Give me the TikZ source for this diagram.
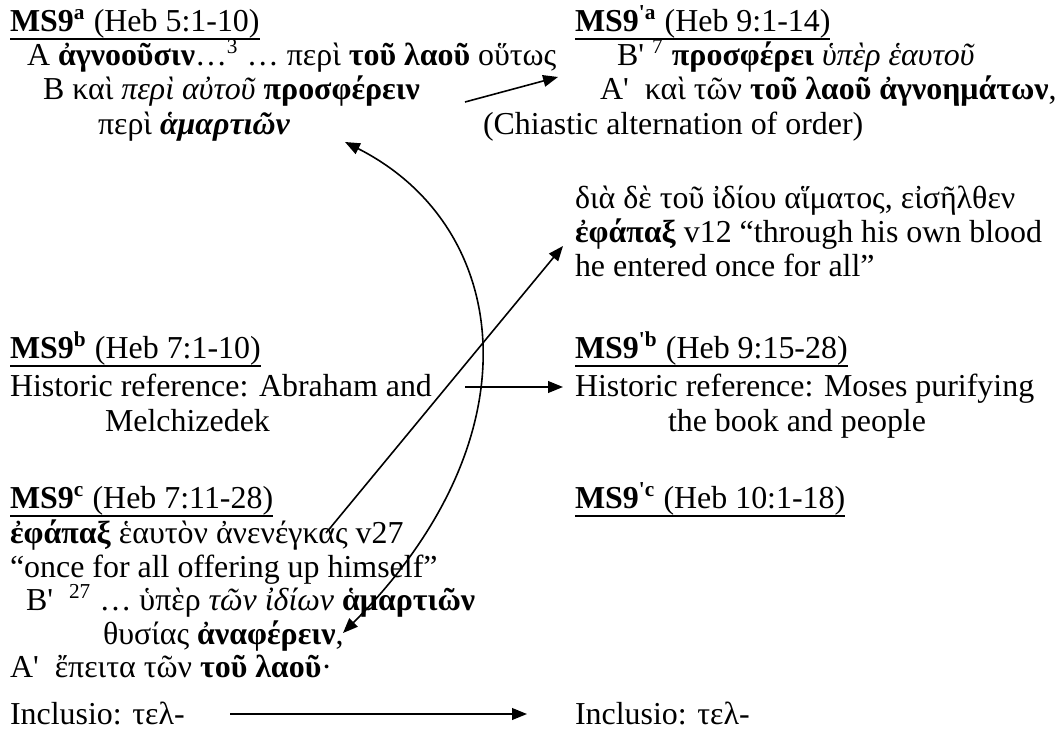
\documentclass[tikz,border=0pt]{standalone}
\usepackage{fontspec}
\newfontfamily\tnr{Liberation Serif}
\usetikzlibrary{arrows.meta}
\begin{document}
\begin{tikzpicture}[x=0.3759pt,y=-0.3759pt,
  txt/.style={anchor=base west,inner sep=0pt,outer sep=0pt,font=\tnr\fontsize{12}{14}\selectfont},
  tip/.tip={Triangle[length=5.6pt,width=4.4pt]},
  arr/.style={line width=0.6pt,-tip},
  twoarr/.style={line width=0.6pt,tip-tip},
  uline/.style={line width=0.75pt}]
\useasboundingbox (0,0) rectangle (1063,754);

% section a
\node[txt] (h1) at (10,31) {\textbf{MS9\textsuperscript{a}} (Heb 5:1-10)};
\node[txt] (a1) at (27,65) {A \textbf{ἀγνοοῦσιν}…\textsuperscript{3} … περὶ \textbf{τοῦ λαοῦ} οὕτως};
\node[txt] (b1) at (43,99) {B καὶ \textit{περὶ αὐτοῦ} \textbf{προσφέρειν}};
\node[txt] (p1) at (98,134) {περὶ \textbf{\textit{ἁμαρτιῶν}}};

\node[txt] (h2) at (575,31) {\textbf{MS9\textsuperscript{'a}} (Heb 9:1-14)};
\node[txt] (b2) at (617,65) {B' \textsuperscript{7} \textbf{προσφέρει} \textit{ὑπὲρ ἑαυτοῦ}};
\node[txt] (a2) at (600,99) {A'\hspace{0.5em}καὶ τῶν \textbf{τοῦ λαοῦ ἀγνοημάτων},};
\node[txt] (ch) at (483,134) {(Chiastic alternation of order)};

\node[txt] (g1) at (575,208) {διὰ δὲ τοῦ ἰδίου αἵματος, εἰσῆλθεν};
\node[txt] (g2) at (575,242) {\textbf{ἐφάπαξ} v12 “through his own blood};
\node[txt] (g3) at (575,276) {he entered once for all”};

% section b
\node[txt] (h3) at (10,358) {\textbf{MS9\textsuperscript{b}} (Heb 7:1-10)};
\node[txt] (r1) at (10,396) {Historic reference: Abraham and};
\node[txt] (r1b) at (105,431) {Melchizedek};
\node[txt] (h4) at (575,358) {\textbf{MS9\textsuperscript{'b}} (Heb 9:15-28)};
\node[txt] (r2) at (575,396) {Historic reference: Moses purifying};
\node[txt] (r2b) at (668,431) {the book and people};

% section c
\node[txt] (h5) at (10,508) {\textbf{MS9\textsuperscript{c}} (Heb 7:11-28)};
\node[txt] (c1) at (10,543) {\textbf{ἐφάπαξ} ἑαυτὸν ἀνενέγκας v27};
\node[txt] (c2) at (10,577) {“once for all offering up himself”};
\node[txt] (c3) at (26,610) {B'\hspace{0.5em}\textsuperscript{27} … ὑπὲρ \textit{τῶν ἰδίων} \textbf{ἁμαρτιῶν}};
\node[txt] (c4) at (103,644) {θυσίας \textbf{ἀναφέρειν},};
\node[txt] (c5) at (10,677) {A'\hspace{0.5em}ἔπειτα τῶν \textbf{τοῦ λαοῦ}·};
\node[txt] (h6) at (575,508) {\textbf{MS9\textsuperscript{'c}} (Heb 10:1-18)};

\node[txt] (i1) at (10,724) {Inclusio: τελ-};
\node[txt] (i2) at (575,724) {Inclusio: τελ-};

% heading underlines
\foreach \h in {h1,h2,h3,h4,h5,h6}
  \draw[uline] ([yshift=-3pt]\h.base west) -- ([yshift=-3pt]\h.base east);

% connector end points
\coordinate (ta) at (465,102);
\coordinate (tb) at (558,77);
\coordinate (ma) at (465,387);
\coordinate (mb) at (563,387);
\coordinate (da) at (326,533);
\coordinate (db) at (563,246);
\coordinate (ka) at (343,633);
\coordinate (kb) at (345,142);
\coordinate (ia) at (230,714);
\coordinate (ib) at (527,714);

\draw[arr] (ta) -- (tb);
\draw[arr] (ma) -- (mb);
\draw[arr] (da) -- (db);
\draw[twoarr] (ka) .. controls (540,436) and (511,226) .. (kb);
\draw[arr] (ia) -- (ib);
\end{tikzpicture}
\end{document}
